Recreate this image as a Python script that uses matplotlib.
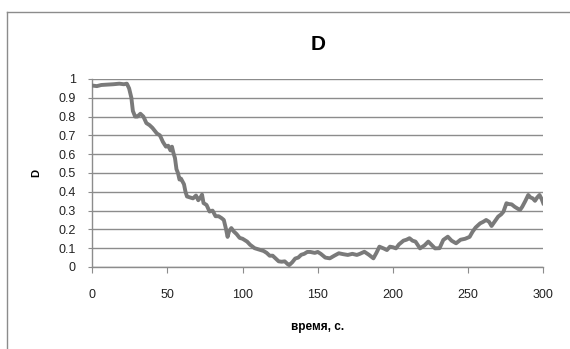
import matplotlib
matplotlib.use('Agg')
import matplotlib.pyplot as plt
from matplotlib.lines import Line2D

# readings (time in s, D)
t = [0, 3, 6, 10, 14, 18, 21, 23, 24.5, 26, 27, 28.5, 30, 32, 34, 36, 38, 40, 43, 45, 47, 49,
     50.5, 52, 53, 54, 55, 56, 57, 58, 59, 61, 62, 63, 65, 67, 69, 70.5, 72, 73, 74, 76, 78,
     80, 82, 84, 86, 87.5, 89, 90, 91, 92.5, 94, 96, 98, 100, 103, 105, 108, 110, 112, 114,
     116, 118, 120, 122, 124, 126, 128, 130, 131, 133, 135, 137, 139, 141, 143, 145, 148, 150,
     152, 155, 158, 161, 164, 167, 170, 173, 176, 178, 181, 184, 187, 189, 191, 194, 196, 198,
     200, 202, 204, 207, 209, 211, 213, 215, 218, 221, 223.5, 226, 228, 231, 233.5, 236.5,
     239, 242, 245, 248, 251, 253, 255, 258, 260, 262, 264, 265.6, 268, 270, 272, 273.5, 275.5,
     277, 279, 281, 283, 284.5, 286, 288, 290, 291.5, 293, 294.5, 296, 297.5, 299, 300]
d = [0.965, 0.962, 0.968, 0.970, 0.972, 0.975, 0.972, 0.975, 0.95, 0.90, 0.83, 0.80, 0.80,
     0.815, 0.80, 0.765, 0.755, 0.74, 0.71, 0.70, 0.665, 0.64, 0.645, 0.62, 0.64, 0.606,
     0.58, 0.52, 0.50, 0.465, 0.47, 0.44, 0.40, 0.375, 0.37, 0.365, 0.38, 0.355, 0.37, 0.385,
     0.34, 0.33, 0.295, 0.30, 0.27, 0.27, 0.26, 0.25, 0.20, 0.16, 0.19, 0.207, 0.19, 0.175,
     0.155, 0.15, 0.135, 0.118, 0.10, 0.095, 0.09, 0.085, 0.075, 0.06, 0.06, 0.045, 0.03,
     0.028, 0.03, 0.015, 0.01, 0.025, 0.045, 0.05, 0.065, 0.07, 0.08, 0.08, 0.075, 0.08,
     0.07, 0.05, 0.046, 0.06, 0.073, 0.068, 0.064, 0.07, 0.064, 0.07, 0.081, 0.065, 0.046,
     0.075, 0.108, 0.098, 0.09, 0.108, 0.105, 0.099, 0.12, 0.14, 0.145, 0.153, 0.14, 0.135,
     0.099, 0.115, 0.135, 0.115, 0.099, 0.10, 0.144, 0.161, 0.14, 0.126, 0.145, 0.15, 0.16,
     0.188, 0.21, 0.232, 0.24, 0.25, 0.24, 0.218, 0.245, 0.268, 0.28, 0.294, 0.339, 0.335,
     0.333, 0.32, 0.31, 0.303, 0.32, 0.35, 0.383, 0.37, 0.365, 0.352, 0.37, 0.383, 0.36, 0.339]

xticks = [0, 50, 100, 150, 200, 250, 300]
yticks = [0, 0.1, 0.2, 0.3, 0.4, 0.5, 0.6, 0.7, 0.8, 0.9, 1]
ytick_labels = ['0', '0.1', '0.2', '0.3', '0.4', '0.5', '0.6', '0.7', '0.8', '0.9', '1']

plt.rcParams['font.family'] = ['Liberation Sans', 'DejaVu Sans']

fig = plt.figure(figsize=(5.7, 3.49), dpi=100)
ax = fig.add_axes([0.1619, 0.2350, 0.7912, 0.5387])

grid_c = '#8c8c8c'
ax.plot(t, d, color='#7a7a7a', lw=2.8, solid_joinstyle='round', zorder=3)

ax.set_xlim(0, 300)
ax.set_ylim(0, 1)
ax.set_xticks(xticks)
ax.set_yticks(yticks)
ax.set_yticklabels(ytick_labels)
ax.grid(axis='y', color=grid_c, lw=1.0)
ax.set_axisbelow(True)
for s in ['top', 'right']:
    ax.spines[s].set_visible(False)
for s in ['left', 'bottom']:
    ax.spines[s].set_color(grid_c)
    ax.spines[s].set_linewidth(1.0)
ax.tick_params(axis='x', direction='out', length=4, color=grid_c, pad=12, labelsize=9,
               labelcolor='#222222')
ax.tick_params(axis='y', direction='out', length=3, color=grid_c, pad=9, labelsize=9,
               labelcolor='#222222')

ax.set_title('D', fontsize=15, fontweight='bold', pad=21)
ax.set_xlabel('время, с.', fontsize=8.5, fontweight='bold')
ax.set_ylabel('D', fontsize=8, fontweight='bold')
ax.xaxis.set_label_coords(0.5, -0.285)
ax.yaxis.set_label_coords(-0.113, 0.5)

# chart area border (cropped at right and bottom)
fig.add_artist(Line2D([7 / 570, 7 / 570], [0, 1 - 12 / 349], transform=fig.transFigure,
                      color='#8c8c8c', lw=1.0))
fig.add_artist(Line2D([7 / 570, 1], [1 - 12 / 349, 1 - 12 / 349], transform=fig.transFigure,
                      color='#8c8c8c', lw=1.0))

fig.savefig('out.png', dpi=100)
